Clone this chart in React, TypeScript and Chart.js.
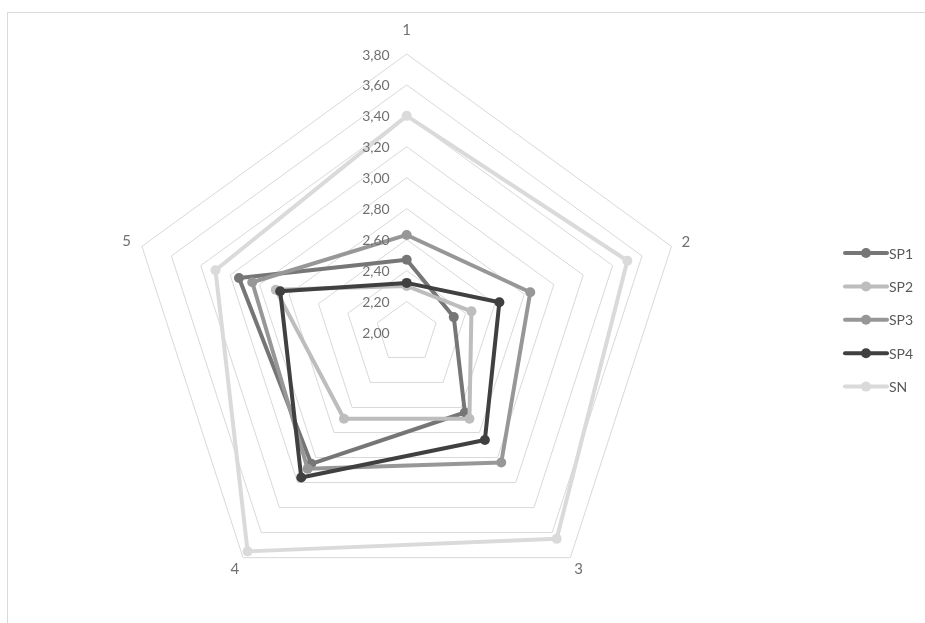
import React, { useEffect, useRef } from "react";
import { Chart, registerables } from "chart.js";

Chart.register(...registerables);

// Axis categories, clockwise from the top
const axisLabels = ["1", "2", "3", "4", "5"];

// Series
const seriesNames = ["SP1", "SP2", "SP3", "SP4", "SN"];
const sp1 = [2.47, 2.32, 2.64, 3.05, 3.14];
const sp2 = [2.3, 2.44, 2.69, 2.69, 2.89];
const sp3 = [2.63, 2.84, 3.04, 3.09, 3.05];
const sp4 = [2.32, 2.63, 2.86, 3.16, 2.86];
const sn = [3.4, 3.5, 3.65, 3.75, 3.3];

// Radial axis
const scaleMin = 2.0;
const scaleMax = 3.8;
const scaleStep = 0.2;
const tickValues = [2.0, 2.2, 2.4, 2.6, 2.8, 3.0, 3.2, 3.4, 3.6, 3.8];

const seriesColors = ["#767676", "#bdbdbd", "#979797", "#404040", "#dadada"];
const FONT = "Lato, 'Open Sans', sans-serif";
const TEXT_COLOR = "#707070";

const fmt = (v: number) => v.toFixed(2).replace(".", ",");

// Draws the frame, tick labels, category labels and the legend
const decorPlugin = {
  id: "decor",
  beforeDraw(chart: any) {
    const { ctx, width, height } = chart;
    ctx.save();
    ctx.fillStyle = "#ffffff";
    ctx.fillRect(0, 0, width, height);
    ctx.strokeStyle = "#d9d9d9";
    ctx.lineWidth = 1;
    ctx.beginPath();
    ctx.moveTo(7.5, height + 2);
    ctx.lineTo(7.5, 12.5);
    ctx.lineTo(width + 2, 12.5);
    ctx.stroke();
    ctx.restore();
  },
  afterDraw(chart: any) {
    const { ctx } = chart;
    const s = chart.scales.r;
    ctx.save();
    // tick labels, right-aligned just left of the first axis
    ctx.font = `14px ${FONT}`;
    ctx.fillStyle = TEXT_COLOR;
    ctx.textAlign = "right";
    ctx.textBaseline = "middle";
    tickValues.forEach((v) => {
      const d = s.getDistanceFromCenterForValue(v);
      ctx.fillText(fmt(v), s.xCenter - 17, s.yCenter - d + 1);
    });
    // category labels outside the outer ring
    const extra = [24, 15, 14, 14, 16];
    ctx.font = `15px ${FONT}`;
    ctx.textAlign = "center";
    axisLabels.forEach((lab, i) => {
      const p = s.getPointPosition(i, s.drawingArea + extra[i]);
      ctx.fillText(lab, p.x, p.y);
    });
    // legend
    const lx0 = 845;
    const lx1 = 887;
    const ly0 = 253;
    const lgap = 33.4;
    ctx.font = `14px ${FONT}`;
    ctx.textAlign = "left";
    chart.data.datasets.forEach((ds: any, i: number) => {
      const y = ly0 + i * lgap;
      ctx.strokeStyle = ds.borderColor;
      ctx.lineWidth = 4;
      ctx.lineCap = "round";
      ctx.beginPath();
      ctx.moveTo(lx0, y);
      ctx.lineTo(lx1, y);
      ctx.stroke();
      ctx.fillStyle = ds.backgroundColor;
      ctx.beginPath();
      ctx.arc((lx0 + lx1) / 2, y, 5, 0, Math.PI * 2);
      ctx.fill();
      ctx.fillStyle = "#595959";
      ctx.fillText(ds.label, lx1 + 2, y + 1);
    });
    ctx.restore();
  },
};

export default function App() {
  const canvasRef = useRef<HTMLCanvasElement | null>(null);

  useEffect(() => {
    const canvas = canvasRef.current;
    if (!canvas) return;
    const values = [sp1, sp2, sp3, sp4, sn];
    const chart = new Chart(canvas, {
      type: "radar",
      data: {
        labels: axisLabels,
        datasets: seriesNames.map((name, i) => ({
          label: name,
          data: values[i],
          borderColor: seriesColors[i],
          backgroundColor: seriesColors[i],
          pointBackgroundColor: seriesColors[i],
          pointBorderColor: seriesColors[i],
          borderWidth: 4,
          borderJoinStyle: "round" as const,
          pointRadius: 5,
          pointBorderWidth: 0,
          fill: false,
          tension: 0,
          clip: false as any,
          order: seriesNames.length - i,
        })),
      },
      options: {
        responsive: false,
        animation: false,
        events: [],
        layout: { padding: { left: 120, top: 40, right: 230, bottom: 20 } },
        plugins: {
          legend: { display: false },
          tooltip: { enabled: false },
          title: { display: false },
        },
        scales: {
          r: {
            min: scaleMin,
            max: scaleMax,
            beginAtZero: false,
            ticks: { display: false, stepSize: scaleStep },
            pointLabels: { display: false },
            angleLines: { display: false },
            grid: { color: "#d9d9d9", lineWidth: 1, circular: false },
            afterFit: (scale: any) => {
              scale.xCenter = 406.7;
              scale.yCenter = 332.4;
              scale.drawingArea = 278.4;
            },
          },
        },
      },
      plugins: [decorPlugin],
    });
    return () => chart.destroy();
  }, []);

  return (
    <div style={{ position: "absolute", left: 0, top: 0, width: 925, height: 623 }}>
      <canvas ref={canvasRef} width={925} height={623} style={{ display: "block" }} />
    </div>
  );
}
